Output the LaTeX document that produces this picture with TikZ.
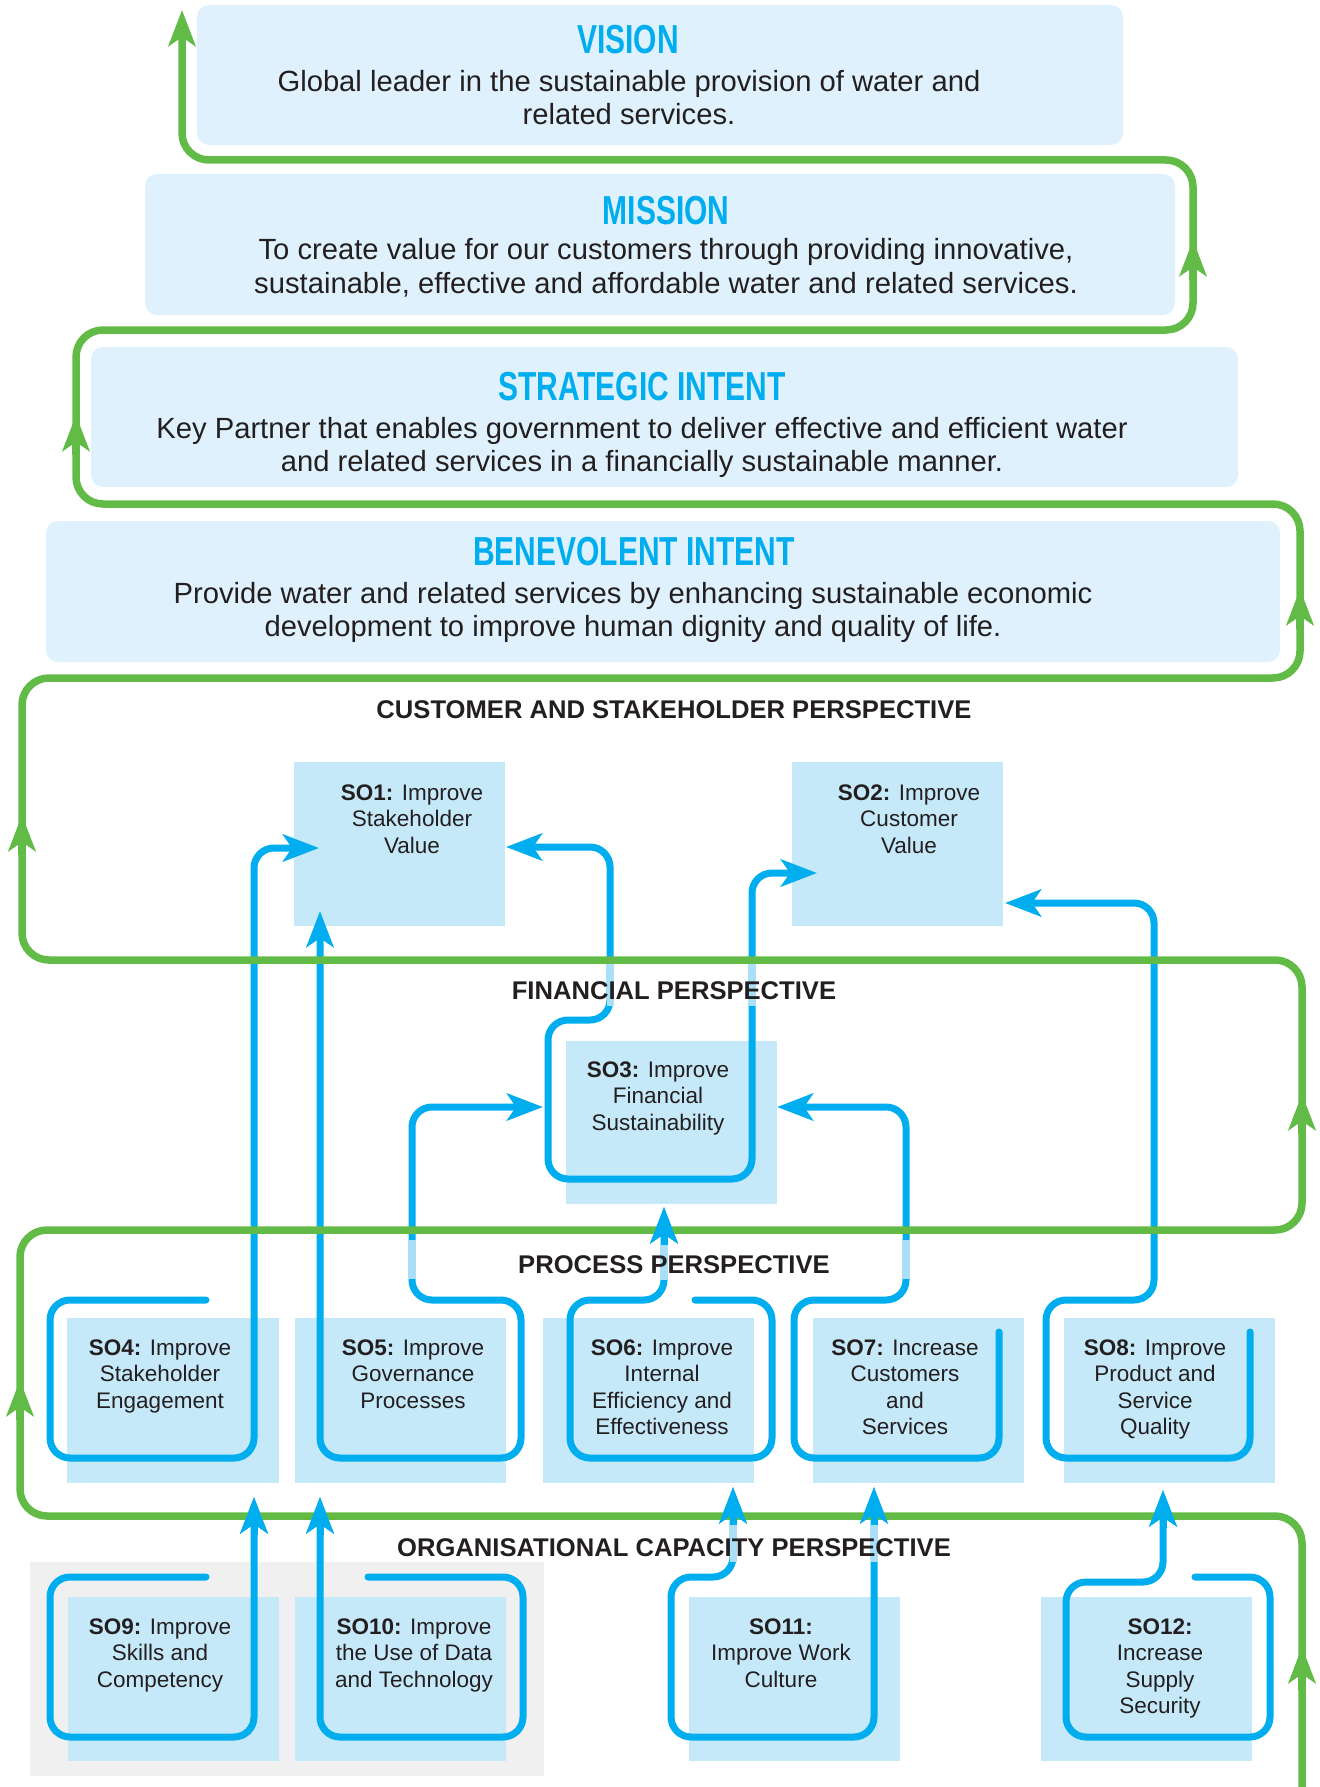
\documentclass[tikz,border=0pt]{standalone}
\usepackage{fontspec}
\setmainfont{Liberation Sans}
\newfontfamily\condfont[FakeStretch=0.74,UprightFont={* Bold}]{Liberation Sans}
\usetikzlibrary{arrows.meta}
\definecolor{cyanline}{RGB}{0,174,239}
\definecolor{greenline}{RGB}{98,187,70}
\definecolor{paleblue}{RGB}{170,223,247}
\definecolor{sofill}{RGB}{198,233,249}
\definecolor{topfill}{RGB}{223,241,252}
\definecolor{greybg}{RGB}{240,240,240}
\definecolor{textdark}{RGB}{35,31,32}
\tikzset{
  topbox/.style={fill=topfill, rounded corners=12pt},
  sobox/.style={fill=sofill},
  titletext/.style={inner sep=0pt, anchor=base, text=cyanline, font=\condfont\fontsize{40.5}{44}\selectfont},
  bodytext/.style={inner sep=0pt, anchor=base, align=center, text=textdark, font=\fontsize{29.2}{33}\selectfont},
  persptext/.style={inner sep=0pt, anchor=base, text=textdark, font=\bfseries\fontsize{25.6}{30}\selectfont},
  sotext/.style={inner sep=0pt, anchor=base, align=center, text=textdark, font=\fontsize{22.5}{26.5}\selectfont},
  bline/.style={draw=cyanline, line width=7pt, rounded corners=20pt, line cap=round},
  gline/.style={draw=greenline, line width=7.5pt, rounded corners=27pt},
  palepart/.style={draw=paleblue, line width=7pt, line cap=butt},
  btip/.style={-{Stealth[length=36pt,width=27pt,inset=9pt]}},
  bbtip/.style={{Stealth[length=36pt,width=27pt,inset=9pt]}-{Stealth[length=36pt,width=27pt,inset=9pt]}},
  gtip/.style={-{Stealth[length=36pt,width=27pt,inset=9pt]}},
}
\begin{document}
\begin{tikzpicture}[x=1pt,y=-1pt]
\useasboundingbox (0,0) rectangle (1319,1787);
% ---- top boxes
\path[topbox] (197,5) rectangle (1123,145);
\path[topbox] (145,174) rectangle (1175,315);
\path[topbox] (91,347) rectangle (1238,487);
\path[topbox] (46,521) rectangle (1280,662);
% ---- grey background of SO9/SO10
\path[fill=greybg] (30,1562) rectangle (544,1776);
% ---- SO boxes
\path[sobox] (294,762) rectangle (505,926);
\path[sobox] (792,762) rectangle (1003,926);
\path[sobox] (566,1041) rectangle (777,1204);
\path[sobox] (67,1318) rectangle (279,1483);
\path[sobox] (295,1318) rectangle (506,1483);
\path[sobox] (543,1318) rectangle (754,1483);
\path[sobox] (813,1318) rectangle (1024,1483);
\path[sobox] (1064,1318) rectangle (1275,1483);
\path[sobox] (68,1597) rectangle (279,1761);
\path[sobox] (295,1597) rectangle (506,1761);
\path[sobox] (689,1597) rectangle (900,1761);
\path[sobox] (1041,1597) rectangle (1252,1761);
% ---- blue connectors
\draw[bline,btip] (206,1300) -- (50,1300) -- (50,1458) -- (254,1458) -- (254,848) -- (319,848);
\draw[bline,bbtip] (543,1107) -- (412,1107) -- (412,1300) -- (521,1300) -- (521,1458) -- (320,1458) -- (320,911);
\draw[bline,bbtip] (506,847) -- (610,847) -- (610,1020) -- (548,1020) -- (548,1179) -- (752,1179) -- (752,873) -- (817,873);
\draw[bline,btip] (695,1300) -- (772,1300) -- (772,1458) -- (570,1458) -- (570,1300) -- (664,1300) -- (664,1207);
\draw[bline,btip] (999,1332) -- (999,1458) -- (794,1458) -- (794,1300) -- (906,1300) -- (906,1107) -- (777,1107);
\draw[bline,btip] (1250,1332) -- (1250,1458) -- (1046,1458) -- (1046,1300) -- (1154,1300) -- (1154,903) -- (1005,903);
\draw[bline,btip] (206,1577) -- (50,1577) -- (50,1737) -- (254,1737) -- (254,1497);
\draw[bline,btip] (368,1577) -- (523,1577) -- (523,1737) -- (320,1737) -- (320,1497);
\draw[bline,bbtip] (733,1487) -- (733,1577) -- (671,1577) -- (671,1737) -- (874,1737) -- (874,1487);
\draw[bline,btip] (1195,1577) -- (1270,1577) -- (1270,1737) -- (1066,1737) -- (1066,1582) -- (1163,1582) -- (1163,1490);
% ---- pale parts
\draw[palepart] (610,964) -- (610,1006);
\draw[palepart] (752,964) -- (752,1006);
\draw[palepart] (412,1240) -- (412,1279);
\draw[palepart] (906,1240) -- (906,1279);
\draw[palepart] (664,1242) -- (664,1280);
\draw[palepart] (733,1520) -- (733,1562);
\draw[palepart] (874,1520) -- (874,1562);
% ---- green serpentine
\draw[gline,gtip] (1302,1800) -- (1302,1516) -- (20,1516) -- (20,1230) -- (1302,1230) -- (1302,960) -- (22,960) -- (22,678) -- (1300,678) -- (1300,504) -- (76,504) -- (76,330) -- (1193,330) -- (1193,160) -- (182,160) -- (182,10);
\draw[draw=greenline, line width=7.5pt, gtip] (1302,1690) -- (1302,1647);
\draw[draw=greenline, line width=7.5pt, gtip] (20,1420) -- (20,1380);
\draw[draw=greenline, line width=7.5pt, gtip] (1302,1134) -- (1302,1094);
\draw[draw=greenline, line width=7.5pt, gtip] (22,855) -- (22,815);
\draw[draw=greenline, line width=7.5pt, gtip] (1300,629) -- (1300,589);
\draw[draw=greenline, line width=7.5pt, gtip] (76,455) -- (76,415);
\draw[draw=greenline, line width=7.5pt, gtip] (1193,280) -- (1193,240);
% ---- blue tips over green
\draw[draw=cyanline, line width=7pt, btip] (664,1245) -- (664,1207);
\draw[draw=cyanline, line width=7pt, btip] (254,1535) -- (254,1497);
\draw[draw=cyanline, line width=7pt, btip] (320,1535) -- (320,1497);
\draw[draw=cyanline, line width=7pt, btip] (733,1525) -- (733,1487);
\draw[draw=cyanline, line width=7pt, btip] (874,1525) -- (874,1487);
\draw[draw=cyanline, line width=7pt, btip] (1163,1528) -- (1163,1490);
% ---- top texts (anchor=base is the last line's baseline)
\node[titletext] (vision) at (628,54) {VISION};
\node[bodytext] (visiontxt) at (629,125) {Global leader in the sustainable provision of water and\\related services.};
\node[titletext] (mission) at (666,225) {MISSION};
\node[bodytext] (missiontxt) at (666,293) {To create value for our customers through providing innovative,\\sustainable, effective and affordable water and related services.};
\node[titletext] (strategic) at (642,400) {STRATEGIC INTENT};
\node[bodytext] (strategictxt) at (642,471) {Key Partner that enables government to deliver effective and efficient water\\and related services in a financially sustainable manner.};
\node[titletext] (benevolent) at (634,565) {BENEVOLENT INTENT};
\node[bodytext] (benevolenttxt) at (633,636) {Provide water and related services by enhancing sustainable economic\\development to improve human dignity and quality of life.};
% ---- perspective titles
\node[persptext] (p1) at (674,718) {CUSTOMER AND STAKEHOLDER PERSPECTIVE};
\node[persptext] (p2) at (674,999) {FINANCIAL PERSPECTIVE};
\node[persptext] (p3) at (674,1273) {PROCESS PERSPECTIVE};
\node[persptext] (p4) at (674,1556) {ORGANISATIONAL CAPACITY PERSPECTIVE};
% ---- SO texts
\node[sotext] (so1) at (412,853) {\textbf{SO1:} Improve\\Stakeholder\\Value};
\node[sotext] (so2) at (909,853) {\textbf{SO2:} Improve\\Customer\\Value};
\node[sotext] (so3) at (658,1130) {\textbf{SO3:} Improve\\Financial\\Sustainability};
\node[sotext] (so4) at (160,1408) {\textbf{SO4:} Improve\\Stakeholder\\Engagement};
\node[sotext] (so5) at (413,1408) {\textbf{SO5:} Improve\\Governance\\Processes};
\node[sotext] (so6) at (662,1434.5) {\textbf{SO6:} Improve\\Internal\\Efficiency and\\Effectiveness};
\node[sotext] (so7) at (905,1434.5) {\textbf{SO7:} Increase\\Customers\\and\\Services};
\node[sotext] (so8) at (1155,1434.5) {\textbf{SO8:} Improve\\Product and\\Service\\Quality};
\node[sotext] (so9) at (160,1687) {\textbf{SO9:} Improve\\Skills and\\Competency};
\node[sotext] (so10) at (414,1687) {\textbf{SO10:} Improve\\the Use of Data\\and Technology};
\node[sotext] (so11) at (781,1687) {\textbf{SO11:}\\Improve Work\\Culture};
\node[sotext] (so12) at (1160,1713.5) {\textbf{SO12:}\\Increase\\Supply\\Security};
\end{tikzpicture}
\end{document}
